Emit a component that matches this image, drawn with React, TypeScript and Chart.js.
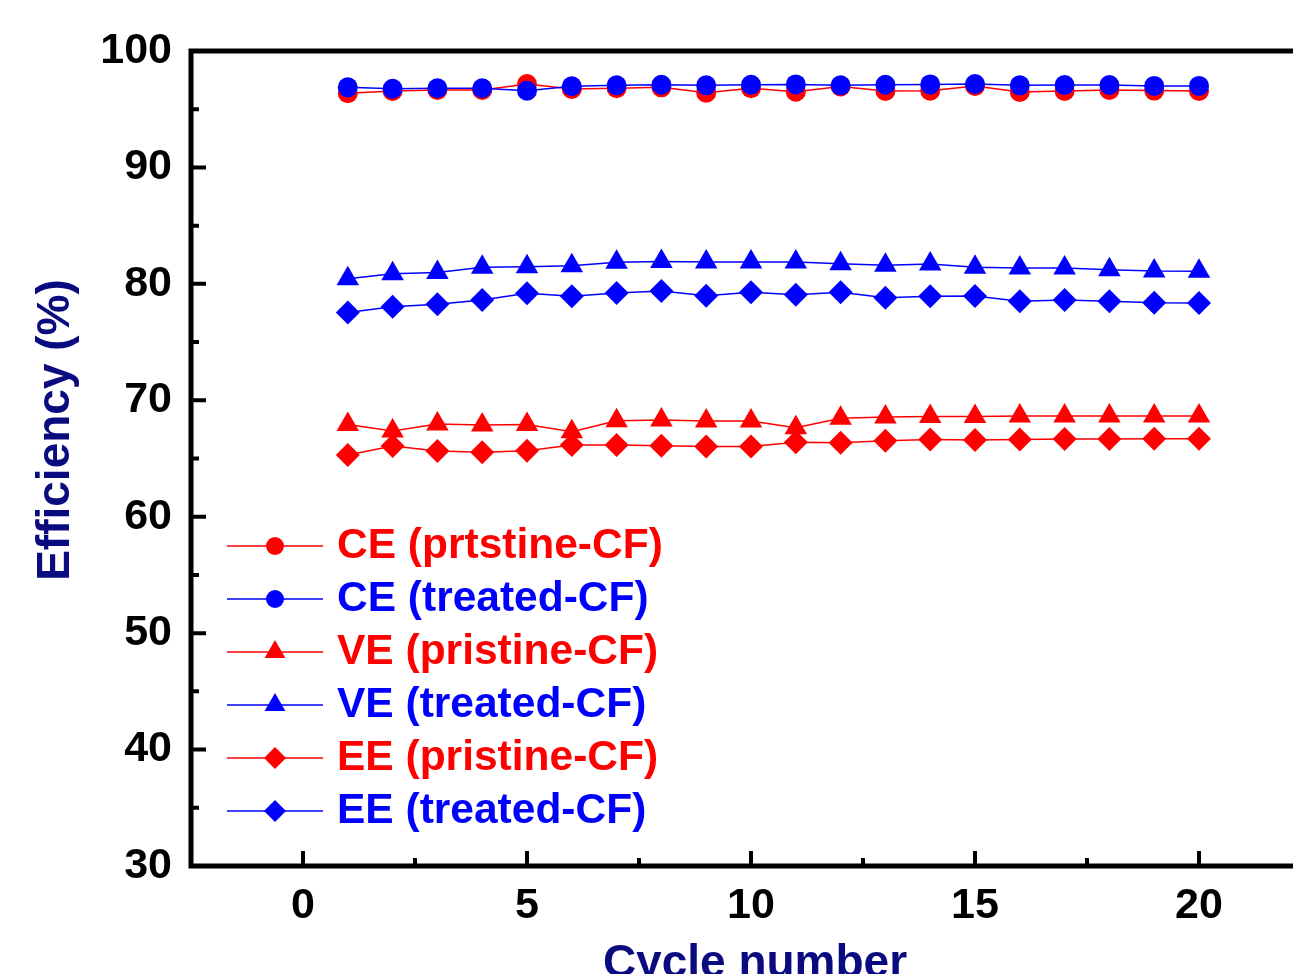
import React, { useEffect, useRef } from 'react';
import { Chart, registerables } from 'chart.js';

Chart.register(...registerables);

const cycles = [1, 2, 3, 4, 5, 6, 7, 8, 9, 10, 11, 12, 13, 14, 15, 16, 17, 18, 19, 20];
const cePristine = [96.37, 96.56, 96.65, 96.65, 97.17, 96.74, 96.8, 96.88, 96.42, 96.8, 96.5, 96.95, 96.56, 96.59, 97.0, 96.48, 96.56, 96.65, 96.6, 96.56];
const ceTreated = [96.88, 96.76, 96.8, 96.8, 96.59, 96.97, 97.05, 97.1, 97.05, 97.1, 97.13, 97.05, 97.1, 97.13, 97.17, 97.05, 97.08, 97.08, 97.0, 97.0];
const vePristine = [67.93, 67.36, 67.96, 67.88, 67.93, 67.3, 68.25, 68.31, 68.22, 68.22, 67.65, 68.45, 68.57, 68.6, 68.6, 68.65, 68.65, 68.65, 68.65, 68.65];
const veTreated = [80.44, 80.87, 80.98, 81.42, 81.47, 81.56, 81.85, 81.93, 81.88, 81.88, 81.88, 81.73, 81.59, 81.7, 81.42, 81.36, 81.36, 81.22, 81.1, 81.09];
const eePristine = [65.3, 66.07, 65.64, 65.53, 65.67, 66.16, 66.16, 66.1, 66.04, 66.04, 66.39, 66.36, 66.53, 66.64, 66.59, 66.64, 66.67, 66.67, 66.7, 66.7];
const eeTreated = [77.55, 78.04, 78.24, 78.61, 79.19, 78.93, 79.22, 79.39, 78.98, 79.27, 79.07, 79.27, 78.81, 78.93, 78.96, 78.5, 78.61, 78.5, 78.38, 78.35];

const seriesLabels = ['CE (prtstine-CF)', 'CE (treated-CF)', 'VE (pristine-CF)', 'VE (treated-CF)', 'EE (pristine-CF)', 'EE (treated-CF)'];
const xTickValues = [0, 5, 10, 15, 20];
const xMinorValues = [-2.5, 2.5, 7.5, 12.5, 17.5, 22.5];
const yTickValues = [30, 40, 50, 60, 70, 80, 90, 100];
const yMinorValues = [35, 45, 55, 65, 75, 85, 95];
const xTitle = 'Cycle number';
const yTitle = 'Efficiency (%)';

const RED = '#ff0000';
const BLUE = '#0000ff';
const NAVY = '#0b0b80';
const FONT = '"Liberation Sans", Arial, sans-serif';

const seriesValues = [cePristine, ceTreated, vePristine, veTreated, eePristine, eeTreated];
const seriesColors = [RED, BLUE, RED, BLUE, RED, BLUE];
const seriesShapes = ['circle', 'circle', 'triangle', 'triangle', 'rectRot', 'rectRot'];
const seriesRadius = [10, 10, 13, 13, 12, 12];
const seriesOrder = [1, 0, 2, 2, 3, 3];

function drawShape(ctx: CanvasRenderingContext2D, shape: string, x: number, y: number, r: number) {
  ctx.beginPath();
  if (shape === 'circle') {
    ctx.arc(x, y, r, 0, Math.PI * 2);
  } else if (shape === 'triangle') {
    ctx.moveTo(x, y - r);
    ctx.lineTo(x + Math.sin((2 * Math.PI) / 3) * r, y + r / 2);
    ctx.lineTo(x - Math.sin((2 * Math.PI) / 3) * r, y + r / 2);
    ctx.closePath();
  } else {
    ctx.moveTo(x - r, y);
    ctx.lineTo(x, y - r);
    ctx.lineTo(x + r, y);
    ctx.lineTo(x, y + r);
    ctx.closePath();
  }
  ctx.fill();
}

const framePlugin = {
  id: 'framePlugin',
  afterDraw(chart: any) {
    const ctx: CanvasRenderingContext2D = chart.ctx;
    const { left, right, top, bottom } = chart.chartArea;
    const xs = chart.scales.x;
    const ys = chart.scales.y;
    ctx.save();
    ctx.strokeStyle = '#000';
    ctx.lineWidth = 5;
    ctx.lineJoin = 'miter';
    ctx.strokeRect(left, top, right - left, bottom - top);

    ctx.lineWidth = 4;
    ctx.lineCap = 'butt';
    ctx.beginPath();
    xTickValues.forEach((v) => {
      const px = xs.getPixelForValue(v);
      ctx.moveTo(px, bottom);
      ctx.lineTo(px, bottom - 15);
    });
    xMinorValues.forEach((v) => {
      const px = xs.getPixelForValue(v);
      ctx.moveTo(px, bottom);
      ctx.lineTo(px, bottom - 8);
    });
    yTickValues.forEach((v) => {
      const py = ys.getPixelForValue(v);
      ctx.moveTo(left, py);
      ctx.lineTo(left + 15, py);
    });
    yMinorValues.forEach((v) => {
      const py = ys.getPixelForValue(v);
      ctx.moveTo(left, py);
      ctx.lineTo(left + 8, py);
    });
    ctx.stroke();

    // axis titles
    ctx.fillStyle = NAVY;
    ctx.font = `bold 46px ${FONT}`;
    ctx.textAlign = 'center';
    ctx.textBaseline = 'alphabetic';
    ctx.fillText(xTitle, 755, 977);
    ctx.save();
    ctx.translate(56, 430);
    ctx.rotate(-Math.PI / 2);
    ctx.textBaseline = 'middle';
    ctx.fillText(yTitle, 0, 0);
    ctx.restore();

    // legend
    ctx.font = `bold 42.5px ${FONT}`;
    ctx.textAlign = 'left';
    ctx.textBaseline = 'middle';
    seriesLabels.forEach((label, i) => {
      const y = 546 + 53 * i;
      const color = seriesColors[i];
      ctx.strokeStyle = color;
      ctx.fillStyle = color;
      ctx.lineWidth = 1.5;
      ctx.beginPath();
      ctx.moveTo(227, y);
      ctx.lineTo(323, y);
      ctx.stroke();
      const shape = seriesShapes[i];
      const r = shape === 'circle' ? 9 : shape === 'triangle' ? 12 : 11;
      drawShape(ctx, shape, 275, y, r);
      ctx.fillText(label, 337, y);
    });
    ctx.restore();
  },
};

export default function App() {
  const ref = useRef<HTMLCanvasElement>(null);
  useEffect(() => {
    const canvas = ref.current;
    if (!canvas) return;
    const datasets = seriesLabels.map((label, i) => ({
      label,
      data: cycles.map((c, j) => ({ x: c, y: seriesValues[i][j] })),
      borderColor: seriesColors[i],
      backgroundColor: seriesColors[i],
      borderWidth: 1.5,
      pointStyle: seriesShapes[i] as any,
      pointRadius: seriesRadius[i],
      pointBorderWidth: 0,
      pointBackgroundColor: seriesColors[i],
      tension: 0,
      order: seriesOrder[i],
    }));
    const tickFont = { family: FONT, size: 43, weight: 'bold' as const };
    const chart = new Chart(canvas, {
      type: 'line',
      data: { datasets },
      options: {
        animation: false,
        responsive: false,
        devicePixelRatio: 1,
        layout: { padding: { left: 0, top: 51, right: 29, bottom: 0 } },
        plugins: { legend: { display: false }, tooltip: { enabled: false } },
        scales: {
          x: {
            type: 'linear',
            min: -2.5,
            max: 22.5,
            afterBuildTicks: (s: any) => {
              s.ticks = xTickValues.map((v) => ({ value: v }));
            },
            afterFit: (s: any) => {
              s.height = 134;
            },
            grid: { display: false, drawTicks: false },
            border: { display: false },
            ticks: { font: tickFont, color: '#000', padding: 14, maxRotation: 0, autoSkip: false },
          },
          y: {
            type: 'linear',
            min: 30,
            max: 100,
            afterBuildTicks: (s: any) => {
              s.ticks = yTickValues.map((v) => ({ value: v }));
            },
            afterFit: (s: any) => {
              s.width = 191;
            },
            grid: { display: false, drawTicks: false },
            border: { display: false },
            ticks: { font: tickFont, color: '#000', padding: 19, autoSkip: false },
          },
        },
      },
      plugins: [framePlugin],
    });
    return () => chart.destroy();
  }, []);
  return (
    <div
      style={{
        position: 'fixed',
        left: 0,
        top: 0,
        width: 1293,
        height: 974,
        overflow: 'hidden',
        background: '#fff',
      }}
    >
      <canvas ref={ref} width={1340} height={1000} style={{ display: 'block' }} />
    </div>
  );
}
